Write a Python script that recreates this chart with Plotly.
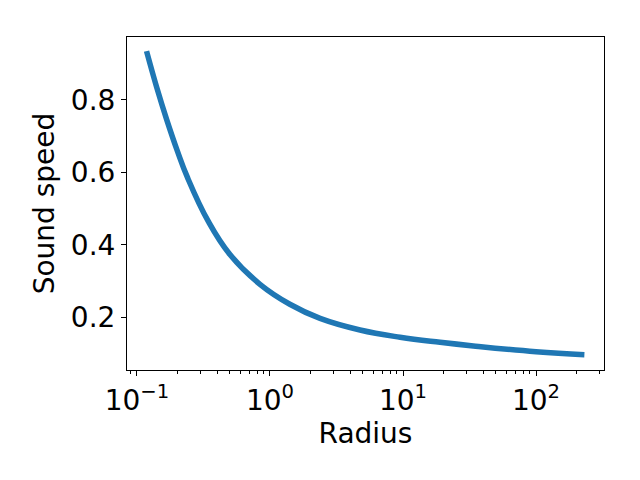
import plotly.graph_objects as go

# Values
radius = [0.118, 0.141, 0.167, 0.202, 0.240, 0.343, 0.500, 0.841, 1.41, 2.38, 4.75, 9.5, 19, 33.8, 100, 231]
sound_speed = [0.934, 0.833, 0.746, 0.657, 0.585, 0.465, 0.373, 0.291, 0.236, 0.197, 0.165, 0.145, 0.131, 0.121, 0.105, 0.097]

x_ticks = [0.1, 1, 10, 100]
x_ticktext = ["10<sup>−1</sup>", "10<sup>0</sup>", "10<sup>1</sup>", "10<sup>2</sup>"]
x_minor = [0.09, 0.2, 0.3, 0.4, 0.5, 0.6, 0.7, 0.8, 0.9,
           2, 3, 4, 5, 6, 7, 8, 9,
           20, 30, 40, 50, 60, 70, 80, 90,
           200, 300]
y_ticks = [0.2, 0.4, 0.6, 0.8]
y_ticktext = ["0.2", "0.4", "0.6", "0.8"]

fig = go.Figure()
fig.add_trace(go.Scatter(
    x=radius, y=sound_speed, mode="lines",
    line=dict(color="#1f77b4", width=5.5, shape="spline", smoothing=1.2),
))

axis_style = dict(
    showline=True, linecolor="black", linewidth=1, mirror=True,
    ticks="outside", ticklen=5, tickwidth=1, tickcolor="black",
    showgrid=False, zeroline=False,
    tickfont=dict(size=28, color="black"),
)

fig.update_xaxes(
    type="log", range=[-1.075, 2.511],
    tickvals=x_ticks, ticktext=x_ticktext,
    minor=dict(tickmode="array", tickvals=x_minor, ticks="outside",
               ticklen=3, tickcolor="black", showgrid=False),
    title=dict(text="Radius", font=dict(size=28, color="black"), standoff=4),
    **axis_style,
)
fig.update_yaxes(
    range=[0.0547, 0.973],
    tickvals=y_ticks, ticktext=y_ticktext,
    title=dict(text="Sound speed", font=dict(size=28, color="black"), standoff=8),
    **axis_style,
)

fig.update_layout(
    width=640, height=480,
    margin=dict(l=119, r=44, t=29, b=118),
    paper_bgcolor="white", plot_bgcolor="white",
    font=dict(family="DejaVu Sans", color="black"),
    showlegend=False,
)

fig.write_html("out.html")
